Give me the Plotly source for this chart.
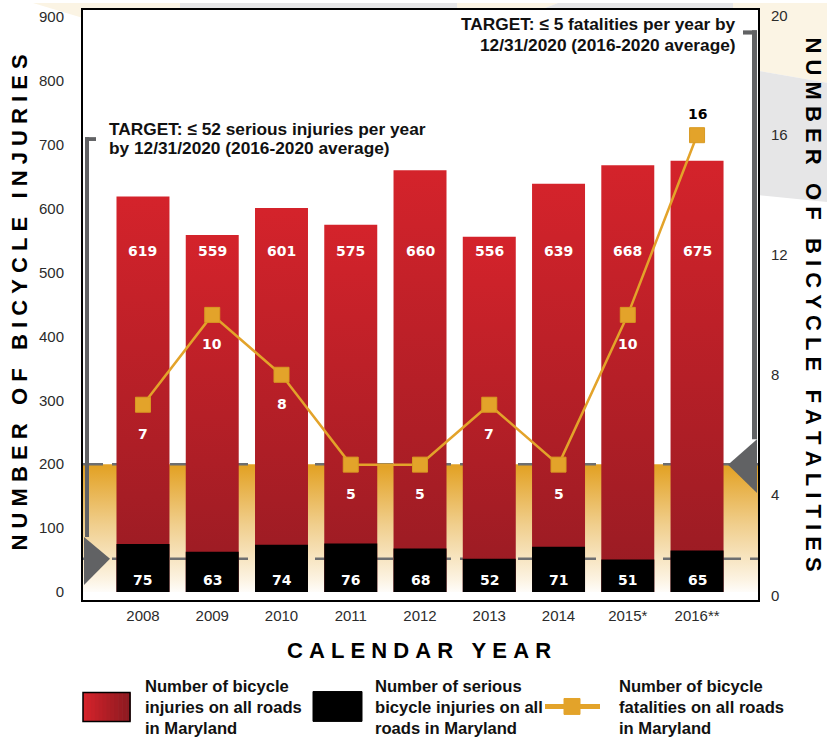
import plotly.graph_objects as go

# Bicycle injuries / fatalities in Maryland
years = ["2008", "2009", "2010", "2011", "2012", "2013", "2014", "2015*", "2016**"]
injuries = [619, 559, 601, 575, 660, 556, 639, 668, 675]
serious = [75, 63, 74, 76, 68, 52, 71, 51, 65]
fatalities = [7, 10, 8, 5, 5, 7, 5, 10, 16]

injury_ticks = [0, 100, 200, 300, 400, 500, 600, 700, 800, 900]
fatality_ticks = [4, 8, 12, 16, 20]

serious_target = 52
fatality_target = 5
band_top = 200

legend_labels = [
    ["Number of bicycle", "injuries on all roads", "in Maryland"],
    ["Number of serious", "bicycle injuries on all", "roads in Maryland"],
    ["Number of bicycle", "fatalities on all roads", "in Maryland"],
]
target_left = ["TARGET: \u2264 52 serious injuries per year", "by 12/31/2020 (2016-2020 average)"]
target_right = ["TARGET: \u2264 5 fatalities per year by", "12/31/2020 (2016-2020 average)"]

RED_TOP = "#D4232B"
RED_BOTTOM = "#971B23"
GOLD = "#E3A32A"
GREY = "#616264"
DASH_GREY = "#6D6E70"
SANS = "Liberation Sans, Arial, sans-serif"
TICK_FONT = dict(family=SANS, size=15, color="#2b2b2b")

X_RANGE = [-0.866, 8.88]
BAR_W = 0.765

# plot area in pixels (used for paper-positioned decorations)
PL, PR, PT, PB = 83, 758, 7, 600


def px(x):
    return (x - PL) / (PR - PL)


def py(y):
    return (PB - y) / (PB - PT)


def spaced(text):
    nb = "\u00a0"
    return (nb * 3).join(nb.join(w) for w in text.split(" "))


fig = go.Figure()

# gold target band behind the bars
fig.add_trace(go.Scatter(
    x=[X_RANGE[0], X_RANGE[1], X_RANGE[1], X_RANGE[0]],
    y=[0, 0, band_top, band_top],
    fill="toself", mode="none",
    fillgradient=dict(type="vertical", start=0, stop=band_top,
                      colorscale=[[0, "#FFFFFF"], [0.12, "#FCF3E2"],
                                  [0.55, "#F0CE8C"], [1, "#E3A225"]]),
    hoverinfo="skip", showlegend=False,
))

# dashed target lines
for level in [band_top, serious_target]:
    fig.add_trace(go.Scatter(
        x=X_RANGE, y=[level, level], mode="lines",
        line=dict(color=DASH_GREY, width=2.5, dash="20px,9px"),
        hoverinfo="skip", showlegend=False,
    ))

# all injuries bars (gradient red)
for i, v in enumerate(injuries):
    xl, xr = i - BAR_W / 2, i + BAR_W / 2
    fig.add_trace(go.Scatter(
        x=[xl, xl, xr, xr], y=[0, v, v, 0],
        fill="toself", mode="none",
        fillgradient=dict(type="vertical", start=0, stop=v,
                          colorscale=[[0, RED_BOTTOM], [1, RED_TOP]]),
        hoverinfo="skip", showlegend=False,
    ))

# serious injuries bars (black)
for i, v in enumerate(serious):
    xl, xr = i - BAR_W / 2, i + BAR_W / 2
    fig.add_trace(go.Scatter(
        x=[xl, xl, xr, xr], y=[0, v, v, 0],
        fill="toself", mode="none", fillcolor="black",
        hoverinfo="skip", showlegend=False,
    ))

# fatalities line
fig.add_trace(go.Scatter(
    x=list(range(len(years))), y=fatalities, yaxis="y2",
    mode="lines+markers",
    line=dict(color=GOLD, width=2.5),
    marker=dict(symbol="square", size=15, color=GOLD, line=dict(color="#D89A22", width=1)),
    showlegend=False,
))

annotations = []
label_font = dict(family="DejaVu Sans", size=14, color="white", weight="bold")

# value labels
for i, v in enumerate(injuries):
    annotations.append(dict(x=i, y=534, text=str(v), showarrow=False, font=label_font))
for i, v in enumerate(serious):
    annotations.append(dict(x=i, y=19, text=str(v), showarrow=False, font=label_font))
for i, v in enumerate(fatalities):
    top = v == max(fatalities)
    annotations.append(dict(x=i, y=v, yref="y2", text=str(v), showarrow=False,
                            yshift=21 if top else -29,
                            font=dict(label_font, color="black" if top else "white")))

# target notes
note_font = dict(family=SANS, size=17.3, color="#111", weight="bold")
for k, line in enumerate(target_left):
    annotations.append(dict(xref="paper", yref="paper", x=px(107), y=py(127 + 19 * k),
                            xanchor="left", yanchor="middle", text=line, showarrow=False,
                            font=note_font))
for k, line in enumerate(target_right):
    annotations.append(dict(xref="paper", yref="paper", x=px(738), y=py(21 + 21 * k),
                            xanchor="right", yanchor="middle", text=line, showarrow=False,
                            font=note_font))

# axis titles
title_font = dict(family=SANS, size=22, color="black", weight="bold")
annotations.append(dict(xref="paper", yref="paper", x=px(20), y=py(301), textangle=-90,
                        xanchor="center", yanchor="middle",
                        text=spaced("NUMBER OF BICYCLE INJURIES"), showarrow=False,
                        font=title_font))
annotations.append(dict(xref="paper", yref="paper", x=px(813), y=py(303), textangle=90,
                        xanchor="center", yanchor="middle",
                        text=spaced("NUMBER OF BICYCLE FATALITIES"), showarrow=False,
                        font=title_font))
annotations.append(dict(xref="paper", yref="paper", x=px(419), y=py(651),
                        xanchor="center", yanchor="middle",
                        text=spaced("CALENDAR YEAR"), showarrow=False, font=title_font))

# right-axis zero label (sits below the shifted fatality scale)
annotations.append(dict(xref="paper", yref="paper", x=1, xanchor="left", xshift=11,
                        y=py(595), yanchor="middle", text="0", showarrow=False,
                        font=TICK_FONT))

# legend text
legend_font = dict(family=SANS, size=16.6, color="#111", weight="bold")
for xpos, lines in zip([143, 373, 617], legend_labels):
    for k, line in enumerate(lines):
        annotations.append(dict(xref="paper", yref="paper", x=px(xpos), y=py(687 + 21 * k),
                                xanchor="left", yanchor="middle", text=line, showarrow=False,
                                font=legend_font))

shapes = []

# background decoration outside the plot
CREAM, BG_GREY = "#FBF4E4", "#E6E6E7"
bg_polys = [
    (CREAM, [(33, 0), (180, 0), (180, 7), (83, 7), (83, 15)]),
    (BG_GREY, [(180, 0), (457, 0), (457, 7), (180, 7)]),
    (CREAM, [(457, 0), (558, 0), (540, 7), (457, 7)]),
    (BG_GREY, [(558, 0), (733, 0), (733, 7), (540, 7)]),
    (CREAM, [(733, 0), (827, 0), (827, 80), (758, 68), (758, 7), (733, 7)]),
    (BG_GREY, [(758, 68), (827, 80), (827, 200), (758, 193)]),
]
for color, pts in bg_polys:
    path = "M " + " L ".join(f"{px(x):.4f},{py(y):.4f}" for x, y in pts) + " Z"
    shapes.append(dict(type="path", xref="paper", yref="paper", path=path,
                       fillcolor=color, line=dict(width=0), layer="below"))

# left target bracket (serious injuries)
shapes.append(dict(type="rect", xref="paper", yref="y", x0=px(85), x1=px(89), y0=86, y1=712,
                   fillcolor=GREY, line=dict(width=0)))
shapes.append(dict(type="rect", xref="paper", yref="y", x0=px(85), x1=px(96), y0=706, y1=712,
                   fillcolor=GREY, line=dict(width=0)))
shapes.append(dict(type="path", xref="paper", yref="y",
                   path=f"M {px(84)},86 L {px(110)},{serious_target} L {px(84)},11 Z",
                   fillcolor=GREY, line=dict(width=0)))

# right target bracket (fatalities)
shapes.append(dict(type="rect", xref="paper", yref="y2", x0=px(752), x1=px(757), y0=5.85, y1=19.5,
                   fillcolor=GREY, line=dict(width=0)))
shapes.append(dict(type="rect", xref="paper", yref="y2", x0=px(743), x1=px(757), y0=19.36, y1=19.5,
                   fillcolor=GREY, line=dict(width=0)))
shapes.append(dict(type="path", xref="paper", yref="y2",
                   path=f"M {px(757)},5.85 L {px(728)},{fatality_target} L {px(757)},4.05 Z",
                   fillcolor=GREY, line=dict(width=0)))

# custom legend swatches
red_strips = 12
for k in range(red_strips):
    t = k / (red_strips - 1)
    r = int(0xD4 + (0x8E - 0xD4) * t)
    g = int(0x23 + (0x1A - 0x23) * t)
    b = int(0x2B + (0x21 - 0x2B) * t)
    x0 = 83 + (130 - 83) * k / red_strips
    x1 = 83 + (130 - 83) * (k + 1) / red_strips
    shapes.append(dict(type="rect", xref="paper", yref="paper", x0=px(x0), x1=px(x1) + 0.001,
                       y0=py(722), y1=py(693), fillcolor=f"rgb({r},{g},{b})", line=dict(width=0)))
shapes.append(dict(type="rect", xref="paper", yref="paper", x0=px(83), x1=px(130),
                   y0=py(722), y1=py(693), line=dict(color="black", width=1.5)))
shapes.append(dict(type="rect", xref="paper", yref="paper", x0=px(313), x1=px(362),
                   y0=py(722), y1=py(692), fillcolor="black", line=dict(color="black", width=1)))
shapes.append(dict(type="line", xref="paper", yref="paper", x0=px(545), x1=px(600),
                   y0=py(707), y1=py(707), line=dict(color=GOLD, width=5)))
shapes.append(dict(type="rect", xref="paper", yref="paper", x0=px(564), x1=px(580),
                   y0=py(715), y1=py(699), fillcolor=GOLD, line=dict(color=GOLD, width=1)))

fig.update_layout(
    width=827, height=740,
    margin=dict(l=PL, r=827 - PR, t=PT, b=740 - PB),
    paper_bgcolor="white", plot_bgcolor="white",
    showlegend=False,
    xaxis=dict(range=X_RANGE, tickvals=list(range(len(years))), ticktext=years,
               showline=True, mirror=True, linecolor="black", linewidth=2,
               showgrid=False, zeroline=False, ticks="outside", ticklen=1,
               tickcolor="rgba(0,0,0,0)", tickfont=TICK_FONT),
    yaxis=dict(range=[-12.5, 911], tickvals=injury_ticks,
               showline=True, mirror=True, linecolor="black", linewidth=2,
               showgrid=False, zeroline=False, ticks="outside", ticklen=14,
               tickcolor="rgba(0,0,0,0)", tickfont=TICK_FONT),
    yaxis2=dict(overlaying="y", side="right", range=[0.48, 20.18], tickvals=fatality_ticks,
                showgrid=False, zeroline=False, showline=False, ticks="outside", ticklen=9,
                tickcolor="rgba(0,0,0,0)", tickfont=TICK_FONT),
    annotations=annotations,
    shapes=shapes,
)

# drop the default page margin so the figure fills the window exactly
fig.write_html("out.html", config={"displayModeBar": False},
               post_script="document.body.style.margin='0';")
